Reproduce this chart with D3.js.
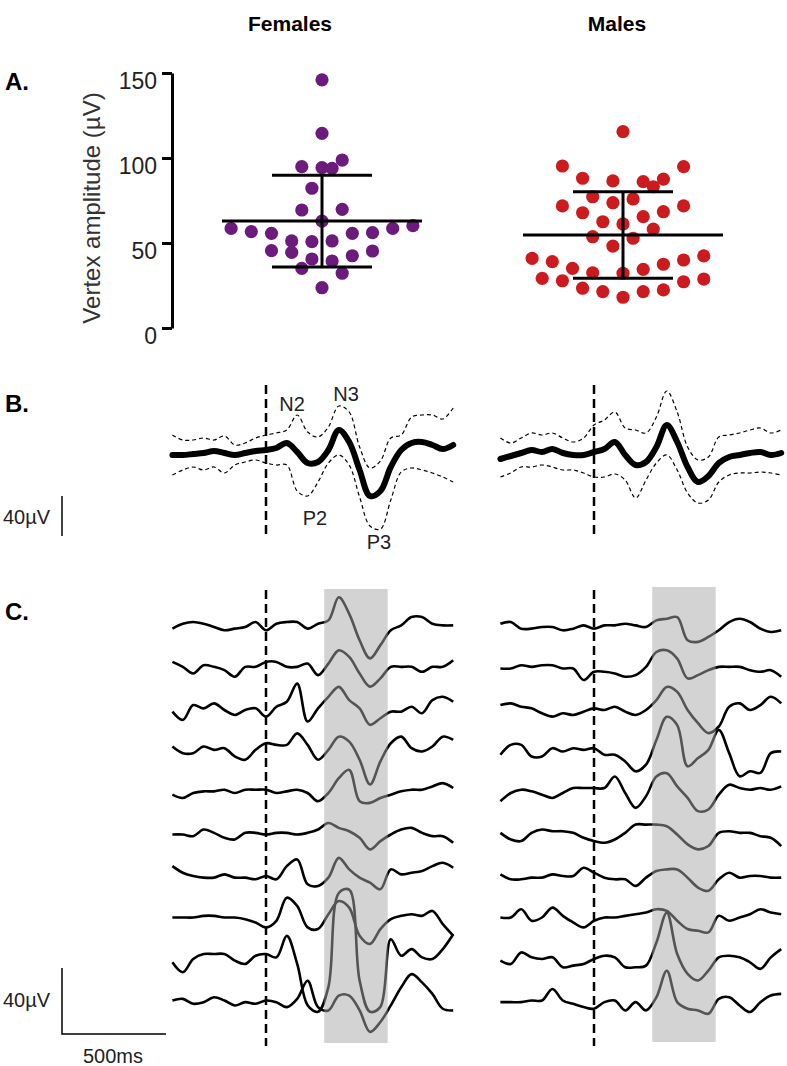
<!DOCTYPE html>
<html><head><meta charset="utf-8">
<script src="https://cdn.jsdelivr.net/npm/d3@7"></script>
<style>body{margin:0;background:#fff}svg{display:block;font-family:Arial,"Liberation Sans",sans-serif}</style>
</head><body><svg id="c" width="787" height="1066"></svg>
<script>
// ---------------- DATA ----------------
const groups = ["Females", "Males"];
const yTicks = [0, 50, 100, 150];
// Panel A: vertex amplitude (µV) per participant, with swarm column (slot) index
const femaleAmp = [146,114.5,94.9,94.3,93.9,98.8,82.2,69.4,69.8,62.9,58.6,56.7,55.7,51.2,50.8,51.2,55.7,56.1,58.6,60.2,45.5,44.5,40.6,39.4,42.5,45.3,35.1,32.2,23.7];
const femaleSlot = [0,0,-2,0,1,2,-1,-2,2,0,-9,-7,-5,-3,-1,1,3,5,7,9,-5,-3,-1,1,3,5,-2,2,0];
const maleAmp = [115.5,95.3,94.9,88.1,86.5,86.1,87.6,83.1,77.2,73.7,75.9,71.8,67.8,65.5,68.4,71.8,62.5,61.2,58.2,53.7,52.8,48.2,41,39,35.1,32.5,32.2,34.5,37.5,40,42.4,29.2,27.8,23.4,21.4,18.1,21.4,22.4,27.2,28.8];
const maleSlot = [0,-6,6,-4,-1,2,4,3,-3,-1,1,-6,-4,2,4,6,-2,0,3,-3,1,-1,-9,-7,-5,-3,0,2,4,6,8,-8,-6,-4,-2,0,2,4,6,8];
const groupMean = [62.9, 54.7];
const groupSD = [27, 25.5];

// Time axis for ERP traces (ms, stimulus at 0)
const times = d3.range(-450, 901, 50);
const boxWindow = [280, 585]; // ms, shaded window

// Panel B: group average ERP (µV) and confidence bounds
const femaleErpMean  = [1,1,2,3,5,3,1,3,5,6,8,13,4,-7,-6,6,26,14,-14,-40,-35,-11,6,13,14,11,7,11];
const femaleErpUpper = [21,16,16,18,16,20,11,13,18,21,23,26,41,24,19,29,50,44,9,-12,-5,18,21,39,41,41,37,48];
const femaleErpLower = [-19,-14,-11,-14,-11,-17,-9,-6,-4,-7,-9,-9,-35,-40,-26,-7,1,-9,-41,-70,-73,-44,-16,-12,-14,-17,-21,-26];
const maleErpMean  = [-3,0,3,6,4,7,3,1,1,4,7,14,1,-9,-6,9,31,14,-11,-26,-20,-7,-1,1,3,4,1,3];
const maleErpUpper = [18,13,18,23,21,23,18,14,18,31,36,44,28,26,23,39,65,44,9,-4,-1,19,21,23,26,28,23,26];
const maleErpLower = [-21,-17,-11,-11,-9,-11,-14,-14,-17,-21,-21,-18,-24,-42,-24,-7,1,-14,-37,-47,-44,-26,-19,-17,-17,-16,-17,-19];
const peakLabels = ["N2", "N3", "P2", "P3"];

// Panel C: single-subject ERPs (µV)
const femaleTrials = [
  [-1,2,3,2,0,-2,-1,0,3,-2,2,3,3,-1,2,4,18,8,-8,-19,-11,-2,1,6,6,2,1,1],
  [4,1,-3,2,1,-1,-5,1,1,4,4,1,1,3,-4,3,11,7,-3,-11,-6,1,1,1,-2,1,1,5],
  [-1,-6,3,1,4,0,-3,0,1,-4,2,5,16,-7,1,8,14,6,1,-9,-5,-1,-1,2,-2,6,8,5],
  [3,-1,-1,3,1,2,-3,-5,1,5,4,4,11,4,-5,1,9,6,-5,-20,-6,5,9,2,0,3,9,7],
  [-1,-3,0,1,1,2,0,2,2,2,0,1,2,0,-5,0,9,14,-5,-6,-3,-1,1,2,2,4,6,3],
  [0,0,-1,3,1,-2,-3,1,1,0,1,1,0,1,3,7,4,2,-2,-9,-4,0,3,4,1,-1,-1,-5],
  [6,2,0,-1,-1,1,-1,-1,-2,0,-2,6,10,-5,-6,-1,11,4,-1,-4,-8,4,1,2,3,6,8,5],
  [0,0,0,1,1,0,0,-1,-3,-6,-2,12,7,-6,-7,2,10,6,-11,-16,-7,-1,1,2,1,4,-4,-11],
  [-2,-8,0,3,3,3,-1,-3,2,3,1,14,-3,-28,-32,-17,40,42,-13,-32,-29,12,2,6,1,0,6,15],
  [0,1,-2,-1,2,0,-3,-1,-2,0,-1,-4,1,12,-4,-6,3,3,-6,-19,-13,-3,8,16,11,4,-5,-6]
];
const maleTrials = [
  [2,3,-1,-1,0,0,-2,-1,1,-1,1,1,2,1,0,4,5,6,-8,-9,-6,-2,3,5,3,-1,-3,-2],
  [0,0,2,1,2,2,0,0,-7,-2,-2,-3,-5,-4,1,10,11,6,-6,-4,-1,1,1,1,-1,-2,-1,-5],
  [3,4,2,1,-2,-4,-2,-3,-1,1,0,2,-1,-3,0,6,14,11,0,-8,-14,-10,2,4,0,3,8,4],
  [-2,4,4,-3,-3,2,0,2,1,2,-2,-2,-6,-12,-8,7,21,16,-9,-4,1,13,-1,-15,-12,-13,-1,0],
  [-5,0,2,1,-1,-3,0,3,3,3,3,10,0,-9,-2,10,12,4,-3,-11,-10,-1,5,3,2,3,2,4],
  [1,-3,-4,1,3,2,2,1,-2,-4,-5,-3,1,6,6,6,5,0,-6,-9,-7,1,2,1,1,-1,-2,-7],
  [1,-2,-2,-1,-1,1,0,0,5,2,-1,-2,-2,-6,-1,3,4,4,-1,-7,-9,-2,2,-1,0,0,-1,-1],
  [0,0,5,-2,0,6,1,-3,-6,-2,0,0,1,2,3,5,4,-2,-7,-8,-9,1,-2,0,2,5,3,2],
  [-1,-3,4,1,0,1,-5,-4,-3,0,2,1,-5,-5,-4,10,28,3,-9,-13,-7,1,2,1,-2,-6,1,6],
  [-1,-1,-1,0,0,7,0,-2,-4,-5,-1,0,-6,-1,-6,2,18,-1,-5,-6,-8,1,2,-3,-7,-1,3,4]
];
const scaleBarUV = 40, scaleBarMS = 500;

// ---------------- DRAW ----------------
const svg = d3.select("#c");
svg.append("rect").attr("width", 787).attr("height", 1066).attr("fill", "#fff");
const FONT = 'Arial,"Liberation Sans",sans-serif';

// headers
const headerX = [290, 617];
groups.forEach((g, i) => svg.append("text").attr("x", headerX[i]).attr("y", 31)
  .attr("text-anchor", "middle").attr("font-weight", "bold").attr("font-size", 21).attr("fill", "#000").text(g));
[["A.", 90], ["B.", 412], ["C.", 620]].forEach(([t, y]) =>
  svg.append("text").attr("x", 5).attr("y", y).attr("font-weight", "bold").attr("font-size", 24).attr("fill", "#000").text(t));

// ---- Panel A ----
const yA = d3.scaleLinear().domain([0, 150]).range([328, 73]);
const centerX = [322, 623];
const slotX = d3.scaleLinear().domain([-1, 1]).range([-10.1, 10.1]);
const axA = svg.append("g").attr("transform", "translate(172,0)")
  .call(d3.axisLeft(yA).tickValues(yTicks).tickSize(10).tickSizeOuter(0).tickPadding(5));
axA.select(".domain").attr("stroke", "#000").attr("stroke-width", 3);
axA.selectAll(".tick line").attr("stroke", "#000").attr("stroke-width", 3);
axA.selectAll(".tick text").attr("font-size", 23).attr("font-family", FONT).attr("fill", "#222").attr("y", 8);
svg.append("text").attr("transform", "translate(100,208) rotate(-90)").attr("text-anchor", "middle")
  .attr("font-size", 24).attr("fill", "#333").text("Vertex amplitude (µV)");

const dotColor = ["#6a1b7c", "#cc1b1e"];
[[femaleAmp, femaleSlot], [maleAmp, maleSlot]].forEach(([amp, slot], gi) => {
  svg.append("g").selectAll("circle").data(amp).join("circle")
    .attr("cx", (d, i) => centerX[gi] + slotX(slot[i]))
    .attr("cy", d => yA(d)).attr("r", 6.6).attr("fill", dotColor[gi]);
  const m = groupMean[gi], s = groupSD[gi], cx = centerX[gi];
  const g = svg.append("g").attr("stroke", "#000").attr("stroke-width", 3);
  g.append("line").attr("x1", cx - 100).attr("x2", cx + 100).attr("y1", yA(m)).attr("y2", yA(m));
  g.append("line").attr("x1", cx).attr("x2", cx).attr("y1", yA(m - s)).attr("y2", yA(m + s));
  [m - s, m + s].forEach(v => g.append("line").attr("x1", cx - 50).attr("x2", cx + 50).attr("y1", yA(v)).attr("y2", yA(v)));
});

// ---- time scales ----
const onsetX = [266, 594];
const xT = onsetX.map(o => d3.scaleLinear().domain([0, 500]).range([o, o + 104]));

// ---- Panel B ----
const yB = d3.scaleLinear().domain([0, 40]).range([456, 416]);
const lineB = xs => d3.line().x((d, i) => xs(times[i])).y(d => yB(d)).curve(d3.curveCatmullRom.alpha(0.5));
[[femaleErpMean, femaleErpUpper, femaleErpLower], [maleErpMean, maleErpUpper, maleErpLower]].forEach((set, gi) => {
  const xs = xT[gi];
  svg.append("line").attr("x1", xs(0)).attr("x2", xs(0)).attr("y1", 385).attr("y2", 538)
    .attr("stroke", "#000").attr("stroke-width", 2.5).attr("stroke-dasharray", "9,5");
  [set[1], set[2]].forEach(d => svg.append("path").attr("d", lineB(xs)(d)).attr("fill", "none")
    .attr("stroke", "#000").attr("stroke-width", 1.2).attr("stroke-dasharray", "4,3"));
  svg.append("path").attr("d", lineB(xs)(set[0])).attr("fill", "none").attr("stroke", "#000")
    .attr("stroke-width", 6).attr("stroke-linejoin", "round").attr("stroke-linecap", "round");
});
const labelPos = [[292, 411], [346, 401], [315, 525], [379, 549]];
peakLabels.forEach((t, i) => svg.append("text").attr("x", labelPos[i][0]).attr("y", labelPos[i][1])
  .attr("text-anchor", "middle").attr("font-size", 20).attr("fill", "#222").text(t));
// B scale bar
svg.append("line").attr("x1", 62).attr("x2", 62).attr("y1", yB(0) + 80).attr("y2", yB(scaleBarUV) + 80)
  .attr("stroke", "#000").attr("stroke-width", 1.5);
svg.append("text").attr("x", 3).attr("y", 524).attr("font-size", 20).attr("fill", "#222").text("40µV");

// ---- Panel C ----
const kC = 1.65;
const yC = i => d3.scaleLinear().domain([0, 40]).range([627 + 41.5 * i, 627 + 41.5 * i - 40 * kC]);
const boxTop = [589, 587], boxBot = [1043, 1042];
[femaleTrials, maleTrials].forEach((trials, gi) => {
  const xs = xT[gi];
  const g = svg.append("g");
  trials.forEach((tr, i) => {
    const ys = yC(i);
    g.append("path").attr("d", d3.line().x((d, j) => xs(times[j])).y(d => ys(d)).curve(d3.curveCatmullRom.alpha(0.5))(tr))
      .attr("fill", "none").attr("stroke", "#000").attr("stroke-width", 2.6).attr("stroke-linejoin", "round");
  });
  svg.append("line").attr("x1", xs(0)).attr("x2", xs(0)).attr("y1", 590).attr("y2", 1046)
    .attr("stroke", "#000").attr("stroke-width", 2.5).attr("stroke-dasharray", "9,5");
  svg.append("rect").attr("x", xs(boxWindow[0])).attr("width", xs(boxWindow[1]) - xs(boxWindow[0]))
    .attr("y", boxTop[gi]).attr("height", boxBot[gi] - boxTop[gi]).attr("fill", "#a8a8a8").attr("opacity", 0.5);
});
// C scale bars
svg.append("path").attr("d", `M62,${1034 - scaleBarUV * kC}V1034H${62 + (xT[0](scaleBarMS) - xT[0](0))}`)
  .attr("fill", "none").attr("stroke", "#000").attr("stroke-width", 1.5);
svg.append("text").attr("x", 3).attr("y", 1007).attr("font-size", 20).attr("fill", "#222").text("40µV");
svg.append("text").attr("x", 113).attr("y", 1063).attr("text-anchor", "middle").attr("font-size", 20).attr("fill", "#222").text("500ms");
</script></body></html>
